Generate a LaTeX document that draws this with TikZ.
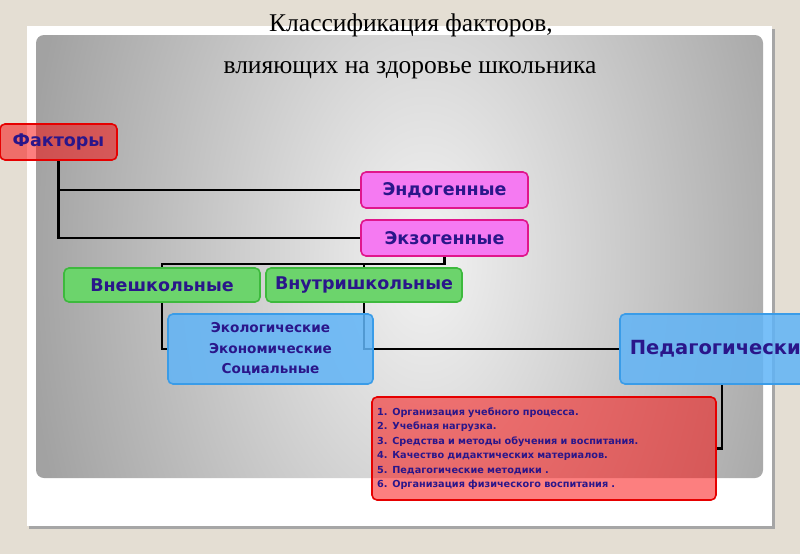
\documentclass[tikz,border=0pt]{standalone}
\usepackage{fontspec}
\setmainfont{Liberation Serif}
\newfontfamily\bxfont{DejaVu Sans}
\usetikzlibrary{calc}
\definecolor{bgc}{HTML}{E4DED3}
\definecolor{pA}{HTML}{F3F3F3}
\definecolor{pB}{HTML}{A2A2A2}
\definecolor{txt}{HTML}{2A168A}
\definecolor{redf}{HTML}{FA0000}
\definecolor{redd}{HTML}{E60000}
\definecolor{magf}{HTML}{F57AF2}
\definecolor{magd}{HTML}{E0168C}
\definecolor{grnf}{HTML}{6CD46C}
\definecolor{grnd}{HTML}{3DBA3D}
\definecolor{bluf}{HTML}{60B4F7}
\definecolor{blud}{HTML}{3A9CE8}
\pgfdeclareradialshading{panelshade}{\pgfpoint{0bp}{0bp}}{color(0bp)=(pA); color(25bp)=(pB); color(50bp)=(pB)}
\tikzset{
  box/.style={draw, rounded corners=5, line width=1.6, inner sep=0, align=center,
    text=txt, text opacity=1, font=\bxfont\bfseries\fontsize{17.5}{20}\selectfont},
  redbox/.style={box, fill=redf, fill opacity=0.5, draw=redd},
  magbox/.style={box, fill=magf, draw=magd, minimum width=167, minimum height=36},
  grnbox/.style={box, fill=grnf, draw=grnd, minimum width=196, minimum height=34},
  blubox/.style={box, fill=bluf, fill opacity=0.85, draw=blud, minimum width=205, minimum height=70},
  conn/.style={line width=2.5, black},
  ttl/.style={anchor=base, font=\fontsize{25.5}{30}\selectfont, text=black}
}
\begin{document}
\begin{tikzpicture}[x=1pt,y=-1pt]
\useasboundingbox (0,0) rectangle (800,554);
\fill[bgc] (0,0) rectangle (800,554);
% frame
\fill[black!35] (29,29) rectangle (775,529);
\fill[white] (27,26) rectangle (772,526);
% panel
\begin{scope}
  \clip[rounded corners=8] (36,35) rectangle (763,478);
  \begin{scope}[shift={(425,258)}, yscale=1.6]
    \shade[shading=panelshade] (-400,-400) rectangle (400,400);
  \end{scope}
\end{scope}
% title
\node[ttl] (t1) at (411,31) {Классификация факторов,};
\node[ttl] (t2) at (410,73) {влияющих на здоровье школьника};
% node placement
\coordinate (pfak) at (58.5,142);
\coordinate (pendo) at (444.5,190);
\coordinate (pexo) at (444.5,238);
\coordinate (pvnesh) at (162,285);
\coordinate (pvnutr) at (364,285);
\coordinate (peco) at (270.5,349);
\coordinate (pped) at (722,349);
\coordinate (plist) at (544,448.5);
% phantom nodes used for routing
\path node[redbox, draw=none, fill=none, text opacity=0, minimum width=117, minimum height=36] (fak) at (pfak) {Факторы}
      node[magbox, draw=none, fill=none, text opacity=0] (endo) at (pendo) {Эндогенные}
      node[magbox, draw=none, fill=none, text opacity=0] (exo) at (pexo) {Экзогенные}
      node[grnbox, draw=none, fill=none, text opacity=0] (vnesh) at (pvnesh) {Внешкольные}
      node[grnbox, draw=none, fill=none, text opacity=0] (vnutr) at (pvnutr) {Внутришкольные}
      node[blubox, draw=none, fill=none, text opacity=0] (eco) at (peco) {}
      node[blubox, draw=none, fill=none, text opacity=0, minimum width=204] (ped) at (pped) {}
      node[redbox, draw=none, fill=none, text opacity=0, minimum width=344, minimum height=103] (list) at (plist) {};
% connectors
\coordinate (jt) at ($(exo.south)+(0,7)$);
\draw[conn] (fak.south) |- (endo.west);
\draw[conn] (fak.south) |- (exo.west);
\draw[conn] (exo.south) -- (jt) -- (jt -| vnesh) |- (eco.west);
\draw[conn] (jt -| vnutr) |- (ped.west);
\draw[conn] (ped.south) |- (list.east);
% boxes
\node[redbox, minimum width=117, minimum height=36] at (fak) {Факторы};
\node[magbox] at (endo) {Эндогенные};
\node[magbox] at (exo) {Экзогенные};
\node[grnbox] at (vnesh) {Внешкольные};
\node[grnbox] at (vnutr) {Внутришкольные};
\node[blubox, font=\bxfont\bfseries\fontsize{13.6}{20.5}\selectfont] at (eco) {Экологические\\Экономические\\Социальные};
\node[blubox, minimum width=204, font=\bxfont\bfseries\fontsize{19.5}{22}\selectfont] at (ped) {Педагогические};
\node[redbox, minimum width=344, minimum height=103, text width=334, align=left,
      font=\bxfont\bfseries\fontsize{9.7}{14.5}\selectfont] at (list)
  {1. Организация учебного процесса.\\
   2. Учебная нагрузка.\\
   3. Средства и методы обучения и воспитания.\\
   4. Качество дидактических материалов.\\
   5. Педагогические методики .\\
   6. Организация физического воспитания .};
\end{tikzpicture}
\end{document}
